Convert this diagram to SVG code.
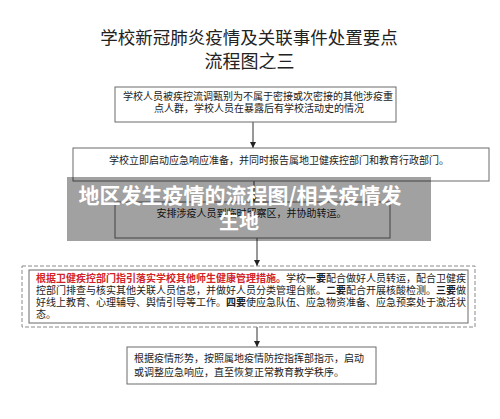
<svg xmlns="http://www.w3.org/2000/svg" width="500" height="419" viewBox="0 0 500 419">
<style>
text{font-family:"Noto Sans CJK SC","Noto Sans",sans-serif;fill:#222}
.title{font-size:17.5px}
.t{font-size:10px}
.box{fill:#fff;stroke:#6a6a6a;stroke-width:1}
.dash{fill:none;stroke:#8a8a8a;stroke-width:1;stroke-dasharray:4 2}
.edge{stroke:#333;stroke-width:1;fill:none;marker-end:url(#arr)}
.red{fill:#d2232a;font-weight:bold}
.b{font-weight:bold}
.wm{fill:#fff;font-weight:bold;font-size:21px}
</style>
<defs>
<marker id="arr" viewBox="0 0 6 6" refX="6" refY="3" markerWidth="6" markerHeight="6" markerUnits="userSpaceOnUse" orient="auto">
<path d="M0,0 L6,3 L0,6 z" fill="#222"/>
</marker>
</defs>
<rect width="500" height="419" fill="#fff"/>
<g id="title">
<text class="title" x="249" y="44" text-anchor="middle">学校新冠肺炎疫情及关联事件处置要点</text>
<text class="title" x="249.5" y="68" text-anchor="middle" style="font-size:18px">流程图之三</text>
</g>
<g id="connectors">
<line class="edge" x1="253" y1="122" x2="253" y2="148"/>
<line class="edge" x1="254" y1="181" x2="254" y2="202"/>
<line class="edge" x1="257" y1="238" x2="257" y2="266"/>
<line class="edge" x1="257" y1="327" x2="257" y2="347"/>
</g>
<g id="n1">
<rect class="box" x="115" y="87" width="281" height="35"/>
<text class="t" x="258" y="100" text-anchor="middle">学校人员被疾控流调甄别为不属于密接或次密接的其他涉疫重</text>
<text class="t" x="259" y="112" text-anchor="middle">点人群，学校人员在暴露后有学校活动史的情况</text>
</g>
<g id="n2">
<rect class="box" x="73" y="148" width="416" height="33"/>
<text class="t" x="279" y="164" text-anchor="middle">学校立即启动应急响应准备，并同时报告属地卫健疾控部门和教育行政部门。</text>
</g>
<g id="n3">
<rect class="box" x="115" y="202" width="275" height="36"/>
<text class="t" x="251.5" y="217" text-anchor="middle">安排涉疫人员到临时留察区，并协助转运。</text>
</g>
<g id="n4">
<rect class="dash" x="22" y="266" width="453" height="61"/>
<rect class="box" x="29" y="270" width="439" height="53"/>
<text class="t" x="36" y="282"><tspan class="red">根据卫健疾控部门指引落实学校其他师生健康管理措施。</tspan>学校<tspan class="b">一要</tspan>配合做好人员转运，配合卫健疾</text>
<text class="t" x="36" y="294">控部门排查与核实其他关联人员信息，并做好人员分类管理台账。<tspan class="b">二要</tspan>配合开展核酸检测。<tspan class="b">三要</tspan>做</text>
<text class="t" x="36" y="306">好线上教育、心理辅导、舆情引导等工作。<tspan class="b">四要</tspan>使应急队伍、应急物资准备、应急预案处于激活状</text>
<text class="t" x="36" y="318">态。</text>
</g>
<g id="n5">
<rect class="box" x="127" y="347" width="249" height="37"/>
<text class="t" x="134" y="362">根据疫情形势，按照属地疫情防控指挥部指示，启动</text>
<text class="t" x="134" y="376">或调整应急响应，直至恢复正常教育教学秩序。</text>
</g>
<g id="overlay">
<rect x="67" y="177" width="364" height="64" fill="#000" fill-opacity="0.37"/>
<text class="wm" x="240" y="203" text-anchor="middle">地区发生疫情的流程图/相关疫情发</text>
<text class="wm" x="239" y="229" text-anchor="middle" style="font-size:20px">生地</text>
</g>
</svg>
